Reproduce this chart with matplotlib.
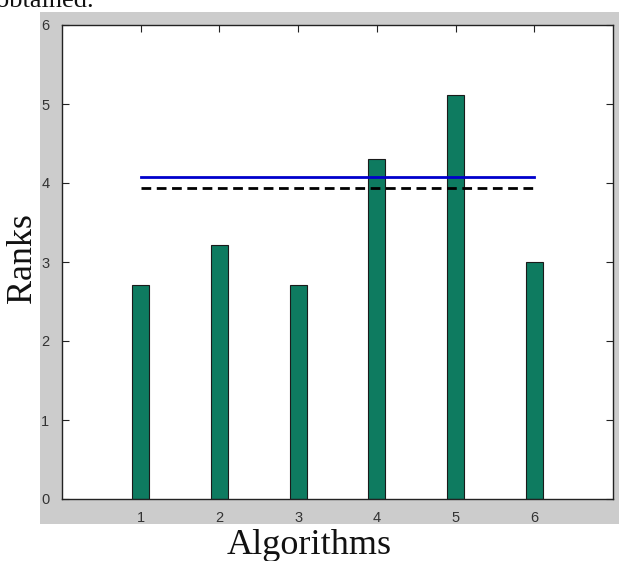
import matplotlib
matplotlib.use("Agg")
import matplotlib.pyplot as plt
from matplotlib.patches import Rectangle

algorithms = [1, 2, 3, 4, 5, 6]
ranks = [2.71, 3.21, 2.71, 4.30, 5.11, 3.00]
line_x = [1, 6]
blue_level = [4.07, 4.07]
dashed_level = [3.94, 3.94]
yticks = [0, 1, 2, 3, 4, 5, 6]

W, H = 619, 561
fig = plt.figure(figsize=(W / 100, H / 100), dpi=100)
fig.patch.set_facecolor("white")

# gray MATLAB figure background
bg = Rectangle((40 / W, (H - 524) / H), 1 - 40 / W, (524 - 11.5) / H,
               transform=fig.transFigure, facecolor="#CCCCCC",
               edgecolor="none", zorder=-10)
fig.add_artist(bg)

ax = fig.add_axes([62 / W, (H - 499) / H, 551 / W, 474 / H])
ax.set_zorder(5)
ax.set_facecolor("white")
ax.bar(algorithms, ranks, width=0.215, color="#0E7B60", edgecolor="#1a1a1a",
       linewidth=0.8, zorder=2)
ax.plot(line_x, blue_level, color="#0000CC", linewidth=2, zorder=3)
ax.plot(line_x, dashed_level, color="black", linewidth=2, linestyle=(0, (3.5, 2)), zorder=3)

ax.set_xlim(0, 7)
ax.set_ylim(0, 6)
ax.set_xticks(algorithms)
ax.set_yticks(yticks)
ax.tick_params(direction="in", length=5, width=0.8, top=True, right=True,
               labelsize=10.5, colors="#222222")
ax.tick_params(axis="x", pad=9)
ax.tick_params(axis="y", pad=9)
for lab in ax.get_xticklabels() + ax.get_yticklabels():
    lab.set_family("Liberation Sans")
    lab.set_color("#333333")
for s in ax.spines.values():
    s.set_linewidth(1.0)
    s.set_color("#222222")

fig.text(22 / W, 1 - 258 / H, "Ranks", rotation=90, ha="center", va="center",
         family="Liberation Serif", fontsize=26, color="#111111")
fig.text(309 / W, 1 - 545 / H, "Algorithms", ha="center", va="center",
         family="Liberation Serif", fontsize=26, color="#111111")
fig.text(-4 / W, 1 - 7 / H, "obtained.", ha="left", va="baseline",
         family="Liberation Serif", fontsize=19, color="#111111")

fig.savefig("out.png", dpi=100)
